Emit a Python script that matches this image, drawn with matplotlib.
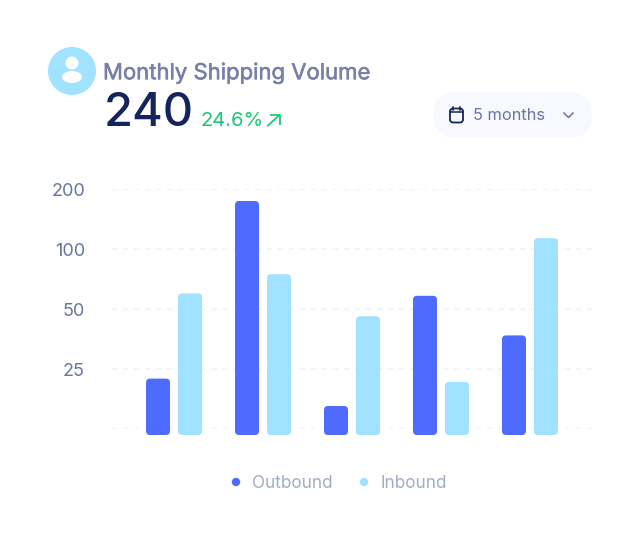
import numpy as np
import matplotlib
matplotlib.use('Agg')
import matplotlib.pyplot as plt
import matplotlib.patheffects as pe
from matplotlib.patches import Circle, Ellipse, FancyBboxPatch
from matplotlib.transforms import IdentityTransform

plt.rcParams['font.family'] = ['Inter', 'DejaVu Sans']

# data
months = [0, 1, 2, 3, 4]
outbound = [21, 180, 9.6, 61, 39]
inbound = [63, 79, 47, 19.6, 118]
y_ticks = [0, 25, 50, 100, 200]
y_labels = ['', '25', '50', '100', '200']
legend_labels = ['Outbound', 'Inbound']

BLUE = '#4f6bff'
LIGHT = '#a0e2ff'

# sumbu y tidak linear, tiap tick berjarak sama
scale_x = [-25, 0, 25, 50, 100, 200, 400]
scale_y = [-1, 0, 1, 2, 3, 4, 5]
def forward(v):
    return np.interp(v, scale_x, scale_y)
def inverse(v):
    return np.interp(v, scale_y, scale_x)

fig = plt.figure(figsize=(6.4, 5.44), dpi=100)

# layer dekorasi dalam koordinat pixel
bg = fig.add_axes([0, 0, 1, 1])
bg.set_xlim(0, 640)
bg.set_ylim(544, 0)
bg.axis('off')

ax = fig.add_axes([112/640, (544-429)/544, 480/640, 240/544])
ax.patch.set_alpha(0)
ax.set_yscale('function', functions=(forward, inverse))
ax.set_xlim(-0.697, 4.697)
ax.set_ylim(0, 200)
ax.set_yticks(y_ticks)
ax.set_yticklabels(y_labels)
ax.set_xticks([])
ax.minorticks_off()
ax.tick_params(axis='y', length=0, pad=19.5, labelsize=13, labelcolor='#69759c')
for s in ax.spines.values():
    s.set_visible(False)
ax.grid(axis='y', color='#f1f4f9', linewidth=1.5, linestyle=(0, (2.5, 2.8)))
ax.set_axisbelow(True)

bar_w = 24 / 89
off = 16 / 89
base = -2.5
x = np.array(months)
bars1 = ax.bar(x - off, np.array(outbound) - base, bar_w, bottom=base, color=BLUE)
bars2 = ax.bar(x + off, np.array(inbound) - base, bar_w, bottom=base, color=LIGHT)

# bar dibuat rounded
fig.canvas.draw()
for b in list(bars1) + list(bars2):
    bb = b.get_window_extent()
    r = 4
    p = FancyBboxPatch((bb.x0 + r, bb.y0 + r), bb.width - 2*r, bb.height - 2*r,
                       boxstyle='round,pad=%d,rounding_size=%d' % (r, r),
                       fc=b.get_facecolor(), ec='none', transform=IdentityTransform(),
                       zorder=3, clip_on=False)
    ax.add_artist(p)
    b.set_visible(False)

# avatar
bg.add_patch(Circle((72, 71), 24, fc=LIGHT, ec='none'))
bg.add_patch(Circle((72, 63), 6.5, fc='white', ec='none'))
bg.add_patch(Ellipse((72, 77), 20, 12, fc='white', ec='none'))

# judul
title = bg.text(103, 73, 'Monthly Shipping Volume', fontsize=15.9, color='#7680a8',
                va='center', ha='left')
title.set_path_effects([pe.withStroke(linewidth=0.4, foreground='#7680a8')])
bg.text(104, 114, '240', fontsize=33.8, color='#14245c', fontweight='medium',
        va='center', ha='left')
bg.text(200, 121.5, '24.6%', fontsize=14.5, color='#1ec776', va='center', ha='left')
bg.plot([268, 279], [125.5, 115.5], color='#1ec776', lw=1.3)
bg.plot([271, 279.5, 279.5], [115, 115, 123.5], color='#1ec776', lw=1.3)

# dropdown
bg.add_patch(FancyBboxPatch((433, 92), 159, 46, boxstyle='round,pad=0,rounding_size=23',
                            fc='#f8f9fe', ec='none'))
bg.add_patch(FancyBboxPatch((450, 108.5), 13, 14, boxstyle='round,pad=0,rounding_size=3',
                            fc='none', ec='#14245c', lw=1.3))
bg.plot([450, 463], [111.5, 111.5], color='#14245c', lw=1.1)
bg.plot([453, 453], [106.5, 109.5], color='#14245c', lw=1.1)
bg.plot([460, 460], [106.5, 109.5], color='#14245c', lw=1.1)
bg.text(473, 115, '5 months', fontsize=11.8, color='#69759c', va='center', ha='left')
bg.plot([564, 568.5, 573], [113, 117.5, 113], color='#69759c', lw=1.1)

# legend
bg.add_patch(Circle((236, 482), 4.2, fc=BLUE, ec='none'))
bg.text(252, 483, legend_labels[0], fontsize=12.3, color='#a3abc6', va='center', ha='left')
bg.add_patch(Circle((364, 482), 4.2, fc=LIGHT, ec='none'))
bg.text(381, 483, legend_labels[1], fontsize=12.3, color='#a3abc6', va='center', ha='left')

plt.savefig('out.png', dpi=100)
